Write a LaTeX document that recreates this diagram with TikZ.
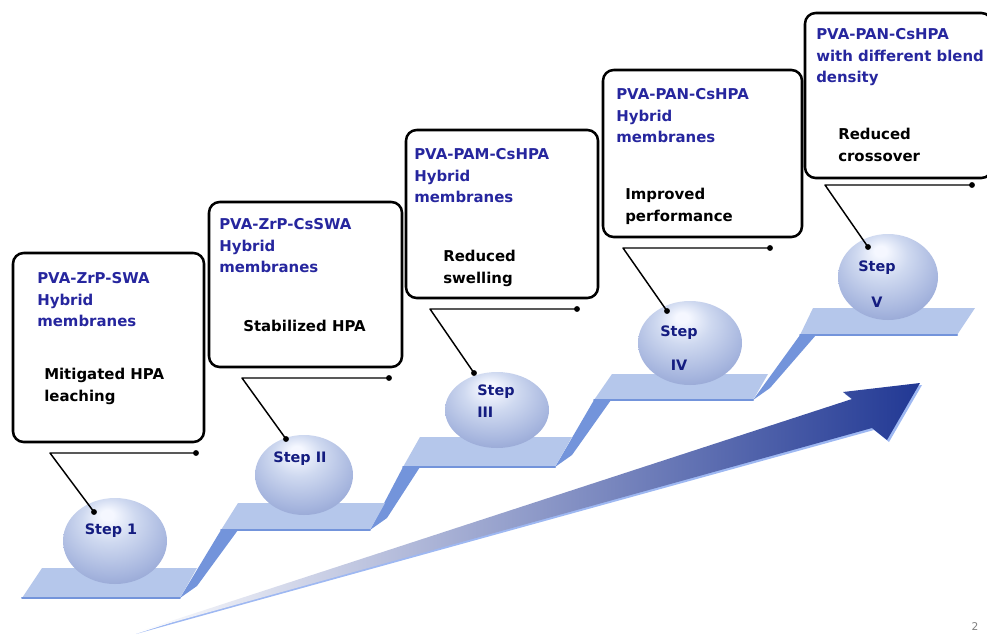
\documentclass[tikz,border=0pt]{standalone}
\usepackage{fontspec}
\setmainfont{DejaVu Sans}
\usetikzlibrary{shapes.geometric}
\definecolor{bbccee}{rgb}{0.71,0.78,0.92}
\definecolor{ttqqdd}{rgb}{0.45,0.58,0.86}
\definecolor{qqqqaa}{rgb}{0.15,0.15,0.62}
\definecolor{qqqqtt}{rgb}{0.08,0.11,0.5}
\definecolor{zzttaa}{rgb}{0.13,0.22,0.58}
\definecolor{aabbcc}{rgb}{0.64,0.66,0.79}
\definecolor{ccddff}{rgb}{0.62,0.72,0.95}
\definecolor{ddeeff}{rgb}{0.81,0.85,0.94}
\definecolor{ccddee}{rgb}{0.65,0.71,0.87}
\definecolor{ttxxcc}{rgb}{0.5,0.57,0.78}
\definecolor{ttttaa}{rgb}{0.38,0.45,0.66}
\definecolor{eeeeff}{rgb}{0.96,0.97,1.0}
\pgfdeclareradialshading{orb}{\pgfpoint{-4bp}{16bp}}{color(0bp)=(eeeeff); color(3bp)=(eeeeff); color(13bp)=(ddeeff); color(28bp)=(ccddee); color(42bp)=(ttxxcc); color(55bp)=(ttttaa)}
\begin{document}
\begin{tikzpicture}[line cap=round,line join=round,x=0.75pt,y=-0.75pt,
  orb/.style={ellipse,shading=orb,inner sep=0pt},
  hed/.style={anchor=north west,inner sep=0pt,align=left,text=qqqqaa,font=\bfseries\fontsize{11.2}{16.3}\selectfont},
  txt/.style={anchor=north west,inner sep=0pt,align=left,text=black,font=\bfseries\fontsize{11.2}{16.5}\selectfont},
  lbl/.style={inner sep=0pt,align=center,text=qqqqtt,font=\bfseries\fontsize{10.8}{16.3}\selectfont}]
\clip(0,0) rectangle (987,635);
% risers
\fill[ttqqdd] (180,598) -- (197,586) -- (238,530) -- (221,530) -- cycle;
\fill[ttqqdd] (370,530) -- (387,518) -- (420,467) -- (403,467) -- cycle;
\fill[ttqqdd] (555,467) -- (572,455) -- (611,400) -- (594,400) -- cycle;
\fill[ttqqdd] (753,400) -- (770,388) -- (816,335) -- (800,335) -- cycle;
% treads
\fill[bbccee] (22,598) -- (42,568) -- (197,568) -- (180,598) -- cycle;
\fill[bbccee] (221,530) -- (238,503) -- (385,503) -- (370,530) -- cycle;
\fill[bbccee] (403,467) -- (420,437) -- (572,437) -- (555,467) -- cycle;
\fill[bbccee] (594,400) -- (612,374) -- (768,374) -- (753,400) -- cycle;
\fill[bbccee] (800,335) -- (813,308) -- (975,308) -- (957,335) -- cycle;
\draw[ttqqdd,line width=1.5pt] (22,598) -- (180,598);
\draw[ttqqdd,line width=1.5pt] (221,530) -- (370,530);
\draw[ttqqdd,line width=1.5pt] (403,467) -- (555,467);
\draw[ttqqdd,line width=1.5pt] (594,400) -- (753,400);
\draw[ttqqdd,line width=1.5pt] (800,335) -- (957,335);
% arrow
\fill[ccddff] (136,634) -- (854,401) -- (845,394) -- (922,385) -- (889,442) -- (874,430) -- cycle;
\shade[left color=white,middle color=aabbcc,right color=zzttaa] (134,633) -- (852,399) -- (843,392) -- (920,383) -- (887,440) -- (872,428) -- cycle;
% spheres
\node[orb,minimum width=78pt,minimum height=64.5pt] (s1) at (115,541) {};
\node[orb,minimum width=73.5pt,minimum height=60pt] (s2) at (304,475) {};
\node[orb,minimum width=78pt,minimum height=57pt] (s3) at (497,410) {};
\node[orb,minimum width=78pt,minimum height=63pt] (s4) at (690,343) {};
\node[orb,minimum width=75pt,minimum height=64.5pt] (s5) at (888,277) {};
\node[lbl] (l1) at (111,531) {Step 1};
\node[lbl] (l2) at (300,459) {Step II};
\node[lbl,anchor=north west,align=left] (l3) at (477,385) {Step\\III};
\node[lbl,anchor=north] (l4) at (679,326) {Step\\[8.5pt]IV};
\node[lbl,anchor=north] (l5) at (877,261) {Step\\[10pt]V};
% boxes
\draw[line width=1.9pt,rounded corners=8pt] (13,253) rectangle (204,442);
\draw[line width=1.9pt,rounded corners=8pt] (209,202) rectangle (402,367);
\draw[line width=1.9pt,rounded corners=8pt] (406,130) rectangle (598,298);
\draw[line width=1.9pt,rounded corners=8pt] (603,70) rectangle (802,237);
\draw[line width=1.9pt,rounded corners=8pt] (805,13) rectangle (992,178);
\node[hed] (h1) at (37,272) {PVA-ZrP-SWA\\Hybrid\\membranes};
\node[txt] (t1) at (44,368) {Mitigated HPA\\leaching};
\node[hed] (h2) at (219,218) {PVA-ZrP-CsSWA\\Hybrid\\membranes};
\node[txt] (t2) at (243,320) {Stabilized HPA};
\node[hed] (h3) at (414,148) {PVA-PAM-CsHPA\\Hybrid\\membranes};
\node[txt] (t3) at (443,250) {Reduced\\swelling};
\node[hed] (h4) at (616,88) {PVA-PAN-CsHPA\\Hybrid\\membranes};
\node[txt] (t4) at (625,188) {Improved\\performance};
\node[hed] (h5) at (816,28) {PVA-PAN-CsHPA\\with different blend\\density};
\node[txt] (t5) at (838,128) {Reduced\\crossover};
% callouts
\coordinate (e1) at (50,453); \coordinate (f1) at (196,453); \coordinate (d1) at (94,512);
\coordinate (e2) at (242,378); \coordinate (f2) at (389,378); \coordinate (d2) at (286,439);
\coordinate (e3) at (430,309); \coordinate (f3) at (577,309); \coordinate (d3) at (474,373);
\coordinate (e4) at (623,248); \coordinate (f4) at (770,248); \coordinate (d4) at (667,311);
\coordinate (e5) at (825,185); \coordinate (f5) at (972,185); \coordinate (d5) at (868,247);
\draw[line width=1.1pt] (f1) -- (e1) -- (d1);
\draw[line width=1.1pt] (f2) -- (e2) -- (d2);
\draw[line width=1.1pt] (f3) -- (e3) -- (d3);
\draw[line width=1.1pt] (f4) -- (e4) -- (d4);
\draw[line width=1.1pt] (f5) -- (e5) -- (d5);
\fill (f1) circle (2.2pt); \fill (d1) circle (2.2pt);
\fill (f2) circle (2.2pt); \fill (d2) circle (2.2pt);
\fill (f3) circle (2.2pt); \fill (d3) circle (2.2pt);
\fill (f4) circle (2.2pt); \fill (d4) circle (2.2pt);
\fill (f5) circle (2.2pt); \fill (d5) circle (2.2pt);
\node[text=gray,font=\fontsize{8}{9}\selectfont] (pg) at (975,627) {2};
\end{tikzpicture}
\end{document}
